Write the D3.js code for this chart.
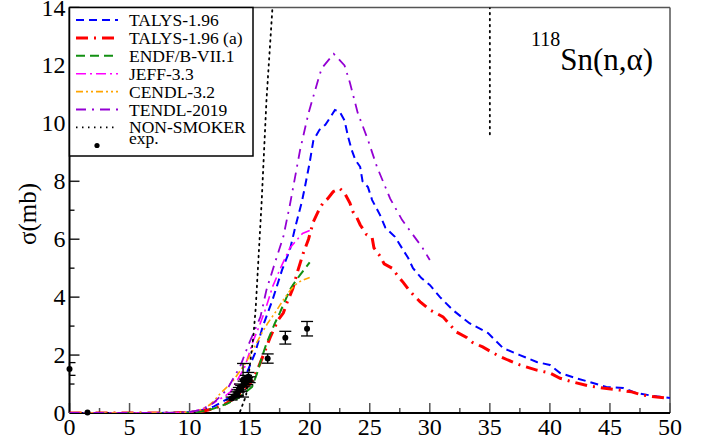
<!DOCTYPE html>
<html><head><meta charset="utf-8">
<script src="https://cdn.jsdelivr.net/npm/d3@7"></script>
<style>body{margin:0;background:#fff}svg{display:block}text{font-family:"Liberation Serif","Times New Roman",serif}</style>
</head><body>
<svg id="c" width="706" height="443"></svg>
<script>
const xTicks=[0,5,10,15,20,25,30,35,40,45,50];
const yTicks=[0,2,4,6,8,10,12,14];

const talysX=[0,2,4,6,8,9,10,11,12,13,13.5,14,14.8,15.45,16.1,16.9,17.7,18.35,18.8,19.35,19.6,20.0,20.3,20.8,21.3,21.7,22.1,22.5,22.9,23.2,23.5,23.8,24.2,24.4,24.85,25.2,25.85,26.3,27.1,28.2,28.6,29.3,30.0,30.85,31.9,33.3,34.85,36.1,37.5,38.9,40.0,40.85,42.2,43.3,44.7,46.1,47.2,48.6,50];
const talysY=[0,0,0,0,0.005,0.01,0.03,0.1,0.22,0.45,0.58,0.72,1.42,2.07,3.0,3.9,4.94,5.63,6.42,7.3,7.8,8.65,9.4,9.77,9.95,10.2,10.46,10.4,10.1,9.53,9.08,8.74,8.5,8.0,7.8,7.35,6.84,6.4,6.08,5.35,5.0,4.66,4.42,4.0,3.56,3.1,2.76,2.24,2.0,1.76,1.66,1.38,1.2,1.07,0.9,0.86,0.69,0.59,0.52];

const talysAX=[0,2,4,6,8,9,10,11,12,13,13.5,14,14.5,15,15.4,16.0,16.7,17.35,17.8,18.1,18.6,19.0,19.45,19.9,20.3,20.7,21.1,21.5,21.95,22.5,22.9,23.35,23.6,23.9,24.2,24.75,25.2,25.35,25.85,26.2,26.85,27.4,27.8,28.2,28.8,29.2,30.0,31.1,32.2,33.1,33.5,34.4,35.6,36.5,37.5,38.9,40.0,40.85,41.9,43.3,44.4,45.8,46.8,47.7,48.9,50];
const talysAY=[0,0,0,0,0,0.005,0.015,0.05,0.15,0.32,0.45,0.6,0.8,1.0,1.25,1.85,2.6,3.2,3.45,3.8,4.3,4.9,5.5,6.0,6.6,6.95,7.25,7.4,7.64,7.75,7.6,7.25,6.95,6.77,6.5,6.15,6.05,5.7,5.42,5.15,5.0,4.7,4.5,4.28,4.0,3.84,3.56,3.32,2.8,2.6,2.45,2.28,2.0,1.83,1.66,1.48,1.38,1.2,1.07,0.93,0.86,0.79,0.73,0.62,0.55,0.5];

const endfX=[0,2,4,6,8,10,11,12,13,14,15.2,15.6,16.0,16.4,17.1,17.5,18.35,18.6,19.2,20];
const endfY=[0,0,0,0,0,0.01,0.05,0.15,0.3,0.5,0.9,1.35,1.9,2.4,3.1,3.45,4.25,4.42,4.77,5.2];

const jeffX=[0,2,4,6,8,10,11,12,13,13.4,14,14.6,15.3,15.8,16.3,16.9,17.5,18.35,19.4,20];
const jeffY=[0,0,0,0,0,0.03,0.12,0.35,0.6,0.73,1.15,1.6,2.5,3.0,3.56,4.35,4.94,5.7,6.2,6.3];

const cendlX=[0,2,4,6,8,10,11,11.4,12,12.5,13,13.6,14.2,14.7,15.3,16,16.5,17.1,17.8,18.4,19,19.5,20];
const cendlY=[0,0,0,0,0,0.03,0.12,0.2,0.4,0.65,0.85,1.1,1.45,1.75,2.2,2.75,3.1,3.45,3.9,4.25,4.5,4.6,4.68];

const tendlX=[0,2,4,6,8,10,11,12,13.1,14.2,14.9,15.9,16.4,17.1,17.8,18.35,19.2,19.9,20.7,21.0,22.0,22.9,23.35,24.0,24.85,25.6,26.7,27.7,28.6,29.4,30];
const tendlY=[0,0,0,0,0,0.03,0.12,0.35,0.8,1.6,2.35,3.32,4.25,5.18,6.08,7.18,9.08,10.35,11.5,11.9,12.4,12.0,11.4,10.36,9.43,8.5,7.4,6.66,6.15,5.7,5.28];

const nonsmX=[14.2,14.7,15.0,15.3,15.5,16.0,16.4,16.9,17.3,35,35];
const nonsmY=[0.05,0.6,1.6,2.6,3.6,7.3,10.8,14.0,17,17,9.6];

const expX=[0,1.5,13.5,13.7,13.9,14.0,14.1,14.2,14.3,14.45,14.5,14.6,14.7,14.8,14.9,15.0,16.5,17.97,19.78];
const expY=[1.52,0.02,0.5,0.58,0.65,0.7,0.8,0.9,0.85,1.13,1.0,1.05,1.2,1.1,1.25,1.15,1.88,2.6,2.91];
const expErr=[0.22,0,0.05,0.06,0.08,0.1,0.08,0.1,0.1,0.58,0.1,0.12,0.1,0.12,0.15,0.1,0.16,0.22,0.25];

const series=[
 {name:"TALYS-1.96",x:talysX,y:talysY,color:"#0000ff",w:2,dash:"8,5"},
 {name:"TALYS-1.96 (a)",x:talysAX,y:talysAY,color:"#ff0000",w:3,dash:"12,6,2,6"},
 {name:"ENDF/B-VII.1",x:endfX,y:endfY,color:"#129012",w:2,dash:"9,5"},
 {name:"JEFF-3.3",x:jeffX,y:jeffY,color:"#ff00ff",w:1.6,dash:"10,4,2,4"},
 {name:"CENDL-3.2",x:cendlX,y:cendlY,color:"#ffa500",w:1.6,dash:"7,3,2,3,2,3"},
 {name:"TENDL-2019",x:tendlX,y:tendlY,color:"#9400d3",w:1.8,dash:"10,6,2,6"},
 {name:"NON-SMOKER",x:nonsmX,y:nonsmY,color:"#000000",w:1.8,dash:"1.5,4.5"}
];

const L=69.5,R=670,T=7.5,B=413;
const svg=d3.select("#c");
const x=d3.scaleLinear().domain([0,50]).range([L,R]);
const y=d3.scaleLinear().domain([0,14]).range([B,T]);

svg.append("defs").append("clipPath").attr("id","clip").append("rect")
 .attr("x",L).attr("y",T).attr("width",R-L).attr("height",B-T);

svg.append("line").attr("x1",L).attr("x2",R).attr("y1",T).attr("y2",T).attr("stroke","#555").attr("stroke-width",1.5);
svg.append("line").attr("x1",R).attr("x2",R).attr("y1",T).attr("y2",B).attr("stroke","#555").attr("stroke-width",1.5);

const xMinor=d3.range(2.5,50,5);
const gx=svg.append("g");
gx.selectAll(".mj").data(xTicks).join("line").attr("x1",d=>x(d)).attr("x2",d=>x(d)).attr("y1",B).attr("y2",B-10).attr("stroke","#555").attr("stroke-width",1.5);
gx.selectAll(".mn").data(xMinor).join("line").attr("x1",d=>x(d)).attr("x2",d=>x(d)).attr("y1",B).attr("y2",B-5).attr("stroke","#555").attr("stroke-width",1.5);
gx.selectAll("text").data(xTicks).join("text").attr("x",d=>x(d)).attr("y",B+22).attr("text-anchor","middle").attr("font-size",24).text(d=>d);

const yMinor=d3.range(1,14,2);
const gy=svg.append("g");
gy.selectAll(".mj").data(yTicks).join("line").attr("x1",L).attr("x2",L+10).attr("y1",d=>y(d)).attr("y2",d=>y(d)).attr("stroke","#222").attr("stroke-width",1.5);
gy.selectAll(".mn").data(yMinor).join("line").attr("x1",L).attr("x2",L+5).attr("y1",d=>y(d)).attr("y2",d=>y(d)).attr("stroke","#222").attr("stroke-width",1.5);
gy.selectAll("text").data(yTicks).join("text").attr("x",L-4).attr("y",d=>y(d)+8).attr("text-anchor","end").attr("font-size",24).text(d=>d);

svg.append("line").attr("x1",L).attr("x2",L).attr("y1",T).attr("y2",B).attr("stroke","#000").attr("stroke-width",2);
svg.append("line").attr("x1",L).attr("x2",R).attr("y1",B).attr("y2",B).attr("stroke","#000").attr("stroke-width",2);

svg.append("text").attr("transform",`translate(${36},${214}) rotate(-90)`).attr("text-anchor","middle").attr("font-size",25).text("σ(mb)");

const plot=svg.append("g").attr("clip-path","url(#clip)");
const line=d3.line().x(d=>x(d[0])).y(d=>y(d[1]));
series.forEach(s=>{
  const pts=s.x.map((v,i)=>[v,s.y[i]]);
  plot.append("path").datum(pts).attr("d",line).attr("fill","none").attr("stroke",s.color)
   .attr("stroke-width",s.w).attr("stroke-dasharray",s.dash).attr("stroke-linecap",s.name==="NON-SMOKER"?"round":"butt");
});

const exp=expX.map((v,i)=>({x:v,y:expY[i],e:expErr[i]}));
const ge=svg.append("g");
exp.forEach(p=>{
  if(p.e>0){
    ge.append("line").attr("x1",x(p.x)).attr("x2",x(p.x)).attr("y1",y(p.y-p.e)).attr("y2",y(p.y+p.e)).attr("stroke","#000").attr("stroke-width",1.3);
    [p.y-p.e,p.y+p.e].forEach(v=>ge.append("line").attr("x1",Math.max(L,x(p.x)-6)).attr("x2",x(p.x)+6).attr("y1",y(v)).attr("y2",y(v)).attr("stroke","#000").attr("stroke-width",1.3));
  }
  ge.append("circle").attr("cx",x(p.x)).attr("cy",y(p.y)).attr("r",3).attr("fill","#000");
});

const lg=svg.append("g");
lg.append("rect").attr("x",L).attr("y",T).attr("width",253-L).attr("height",156-T).attr("fill","#fff").attr("stroke","#000").attr("stroke-width",1.5);
series.forEach((s,i)=>{
  const cy=20+i*17.9;
  lg.append("line").attr("x1",76).attr("x2",118).attr("y1",cy).attr("y2",cy).attr("stroke",s.color).attr("stroke-width",s.w).attr("stroke-dasharray",s.dash);
  lg.append("text").attr("x",129).attr("y",cy+6).attr("font-size",17.5).text(s.name);
});
lg.append("circle").attr("cx",97).attr("cy",145.5).attr("r",2.6).attr("fill","#000");
lg.append("text").attr("x",129).attr("y",144).attr("font-size",17.5).text("exp.");

const t=svg.append("text").attr("x",531).attr("y",70).attr("font-size",31);
t.append("tspan").attr("font-size",20).attr("dy",-24).text("118");
t.append("tspan").attr("dy",24).text("Sn(n,α)");
</script>
</body></html>
